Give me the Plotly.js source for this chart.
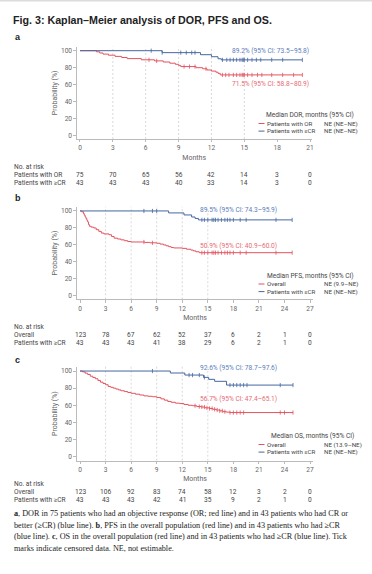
<!DOCTYPE html>
<html><head><meta charset="utf-8">
<script src="https://cdn.plot.ly/plotly-3.0.1.min.js"></script>
<style>html,body{margin:0;padding:0;background:#fff}#chart{width:372px;height:574px}</style>
</head><body><div id="chart"></div>
<script>
// ---------- DATA ----------
// Panel a: DOR
const aOR_t = [0, 1.5, 1.8, 2.1, 2.6, 3.2, 3.8, 4.3, 5.6, 6.8, 7.6, 8.2, 8.7, 9.0, 9.2, 10.6, 11.2, 11.6, 12.0, 12.4, 12.6, 12.8, 20.3];
const aOR_s = [100, 98.7, 97.3, 96.0, 94.7, 93.3, 92.0, 90.7, 89.3, 88.0, 86.7, 85.3, 84.0, 82.7, 81.3, 80.0, 78.7, 77.3, 76.0, 74.7, 73.3, 71.5, 71.5];
const aCR_t = [0, 7.5, 11.0, 12.0, 12.6, 12.9, 20.3];
const aCR_s = [100, 97.7, 95.3, 92.9, 90.5, 89.2, 89.2];
const aOR_cens = [6.3, 7.0, 9.5, 10.0, 10.5, 11.5, 13.0, 13.3, 13.6, 14.0, 14.3, 14.6, 14.8, 14.9, 15.0, 15.3, 15.7, 16.2, 16.6, 17.5, 18.5, 19.5, 20.3];
const aCR_cens = [6.5, 7.5, 9.2, 9.7, 10.2, 10.5, 13.0, 13.4, 13.7, 14.0, 14.3, 14.6, 14.8, 14.9, 15.0, 15.3, 15.7, 16.1, 16.5, 17.5, 18.5, 20.3];
const aTicks = [0, 3, 6, 9, 12, 15, 18, 21];
const aRiskOR = [75, 70, 65, 56, 42, 14, 3, 0];
const aRiskCR = [43, 43, 43, 40, 33, 14, 3, 0];

// Panel b: PFS
const bOv_t = [0, 0.2, 0.4, 0.5, 0.6, 0.7, 0.8, 0.9, 1.0, 1.1, 1.3, 1.6, 1.9, 2.2, 2.5, 2.8, 3.4, 3.7, 4.0, 4.4, 4.8, 5.2, 5.6, 6.0, 7.6, 8.2, 9.0, 9.4, 9.8, 10.1, 10.4, 10.7, 11.0, 12.0, 12.5, 13.0, 13.3, 13.6, 14.0, 24.9];
const bOv_s = [100, 99, 97, 95, 93, 91, 89, 87, 84, 82, 81, 80, 78, 76, 74, 73, 72, 70, 68, 67, 66, 65, 64, 63.5, 63, 62.5, 62, 61, 60, 59, 58, 57, 56.5, 56, 55, 54, 53, 52, 50.9, 50.9];
const bCR_t = [0, 10.4, 12.2, 13.1, 13.5, 13.9, 24.9];
const bCR_s = [100, 97.7, 95.3, 92.9, 91.2, 89.5, 89.5];
const bOv_cens = [7.5, 8.5, 14.3, 14.6, 15.0, 15.5, 15.7, 15.9, 16.2, 16.6, 17.0, 17.3, 17.6, 18.0, 18.8, 19.5, 23.0, 24.9];
const bCR_cens = [7.5, 8.5, 9.0, 14.3, 14.6, 15.0, 15.5, 15.7, 15.9, 16.2, 16.6, 17.0, 17.3, 17.6, 18.0, 18.8, 19.5, 23.0, 24.9];
const bTicks = [0, 3, 6, 9, 12, 15, 18, 21, 24, 27];
const bRiskOv = [123, 78, 67, 62, 52, 37, 6, 2, 1, 0];
const bRiskCR = [43, 43, 43, 41, 38, 29, 6, 2, 1, 0];

// Panel c: OS
const cOv_t = [0, 0.3, 0.6, 0.9, 1.2, 1.5, 1.8, 2.1, 2.4, 2.7, 3.0, 3.3, 3.6, 3.9, 4.2, 4.5, 4.8, 5.2, 5.6, 6.0, 6.5, 7.0, 7.5, 8.0, 8.5, 9.0, 9.5, 9.9, 10.3, 10.7, 11.2, 11.7, 12.2, 12.7, 13.2, 13.7, 14.2, 14.7, 15.2, 15.6, 16.0, 16.4, 16.8, 17.2, 17.6, 25.0];
const cOv_s = [100, 99, 97.5, 96, 94, 92.5, 91, 89, 87, 85.5, 84, 82, 81, 80, 79, 78, 77, 76, 75, 74, 73, 72, 71, 70.5, 70, 69, 67.5, 66, 64.5, 63.5, 62.5, 62, 61, 60, 59.5, 58.5, 58, 57, 56.3, 55.3, 54.5, 53.5, 52.5, 52, 51.5, 51.5];
const cCR_t = [0, 10.6, 12.3, 14.5, 15.1, 15.8, 17.2, 25.0];
const cCR_s = [100, 97.7, 95.3, 92.6, 90.3, 88.0, 83.6, 83.6];
const cOv_cens = [13.5, 14.0, 14.3, 14.6, 14.9, 15.2, 15.5, 15.8, 16.1, 16.4, 16.7, 17.0, 17.6, 18.0, 18.4, 18.8, 19.2, 23.5, 24.0, 25.0];
const cCR_cens = [8.5, 12.8, 13.2, 14.0, 14.6, 17.6, 18.0, 18.4, 18.8, 19.2, 19.6, 23.5, 25.0];
const cTicks = [0, 3, 6, 9, 12, 15, 18, 21, 24, 27];
const cRiskOv = [123, 106, 92, 83, 74, 58, 12, 3, 2, 0];
const cRiskCR = [43, 43, 43, 42, 41, 35, 9, 2, 1, 0];

const gridMonths = [3, 6, 9, 12, 15];
const yTicks = [0, 20, 40, 60, 80, 100];

// ---------- STYLE ----------
const W = 372, H = 574;
const PX = x => x / W, PY = y => 1 - y / H;
const RED = '#e2535f', BLUE = '#46679f';
const RED_T = '#e66a74', BLUE_T = '#5b7dba';
const SANS = 'Roboto, "Liberation Sans", sans-serif';
const GREY = '#666';
const FS = 6.6, LFS = 6.2;

function survAt(t, ts, ss) { let v = ss[0]; for (let i = 0; i < ts.length; i++) if (ts[i] <= t) v = ss[i]; return v; }

const traces = [];
function addPanel(xa, ya, redT, redS, blueT, blueS, redC, blueC) {
  traces.push({x: redT, y: redS, xaxis: xa, yaxis: ya, mode: 'lines', line: {shape: 'hv', color: RED, width: 1}, hoverinfo: 'skip', showlegend: false});
  traces.push({x: blueT, y: blueS, xaxis: xa, yaxis: ya, mode: 'lines', line: {shape: 'hv', color: BLUE, width: 1}, hoverinfo: 'skip', showlegend: false});
  traces.push({x: redC, y: redC.map(t => survAt(t, redT, redS)), xaxis: xa, yaxis: ya, mode: 'markers', marker: {symbol: 'line-ns-open', size: 3, color: RED, line: {color: RED, width: 0.8}}, hoverinfo: 'skip', showlegend: false});
  traces.push({x: blueC, y: blueC.map(t => survAt(t, blueT, blueS)), xaxis: xa, yaxis: ya, mode: 'markers', marker: {symbol: 'line-ns-open', size: 3, color: BLUE, line: {color: BLUE, width: 0.8}}, hoverinfo: 'skip', showlegend: false});
}
addPanel('x', 'y', aOR_t, aOR_s, aCR_t, aCR_s, aOR_cens, aCR_cens);
addPanel('x2', 'y2', bOv_t, bOv_s, bCR_t, bCR_s, bOv_cens, bCR_cens);
addPanel('x3', 'y3', cOv_t, cOv_s, cCR_t, cCR_s, cOv_cens, cCR_cens);

function xAx(domPx, range, ticks) {
  return {domain: [PX(domPx[0]), PX(domPx[1])], range: range, tickvals: ticks, ticktext: ticks.map(String),
    showline: true, linecolor: '#aaa', linewidth: 0.8, ticks: 'outside', ticklen: 2.5, tickcolor: '#aaa', tickwidth: 0.8,
    tickfont: {size: FS, color: GREY, family: SANS}, showgrid: false, zeroline: false, fixedrange: true,
    title: {text: 'Months', font: {size: 7, color: GREY, family: SANS}, standoff: 3}};
}
function yAx(domPx, range, anchor) {
  return {domain: [PY(domPx[1]), PY(domPx[0])], range: range, tickvals: yTicks, ticktext: yTicks.map(String), anchor: anchor,
    showline: true, linecolor: '#aaa', linewidth: 0.8, ticks: 'outside', ticklen: 2.5, tickcolor: '#aaa', tickwidth: 0.8,
    tickfont: {size: FS, color: GREY, family: SANS}, showgrid: false, zeroline: false, fixedrange: true,
    title: {text: 'Probability (%)', font: {size: 7, color: GREY, family: SANS}, standoff: 2}};
}

const ann = [];
const shapes = [];
function txt(x, y, s, opt) {
  ann.push(Object.assign({x: x, y: y, xref: 'paper', yref: 'paper', text: s, showarrow: false, xanchor: 'left', yanchor: 'middle', borderpad: 0,
    font: {size: FS, color: GREY, family: SANS}}, opt || {}));
}
// Title
txt(PX(12), PY(20), '<b>Fig. 3: Kaplan–Meier analysis of DOR, PFS and OS.</b>', {font: {size: 10.7, color: '#222', family: '"Liberation Sans", sans-serif'}});
// Top strip
shapes.push({type: 'rect', xref: 'paper', yref: 'paper', x0: 0, x1: 1, y0: PY(1.5), y1: 1, fillcolor: '#dcdcdc', line: {width: 0}});

// panel letters
[['a', 37], ['b', 198], ['c', 360]].forEach(([l, y]) => txt(PX(14), PY(y), '<b>' + l + '</b>', {font: {size: 9, color: '#222', family: '"Liberation Sans", sans-serif'}}));

// in-plot labels
txt(PX(310), PY(50.7), '89.2% (95% CI: 73.5–95.8)', {xanchor: 'right', font: {size: FS, color: BLUE_T, family: SANS}});
txt(PX(310), PY(84.3), '71.5% (95% CI: 58.8–80.9)', {xanchor: 'right', font: {size: FS, color: RED_T, family: SANS}});
txt(PX(199), PY(210), '89.5% (95% CI: 74.3–95.9)', {font: {size: FS, color: BLUE_T, family: SANS}});
txt(PX(199), PY(245.7), '50.9% (95% CI: 40.9–60.0)', {font: {size: FS, color: RED_T, family: SANS}});
txt(PX(199), PY(368.3), '92.6% (95% CI: 78.7–97.6)', {font: {size: FS, color: BLUE_T, family: SANS}});
txt(PX(199), PY(399.3), '56.7% (95% CI: 47.4–65.1)', {font: {size: FS, color: RED_T, family: SANS}});

// legends
function legend(yHead, head, rows) {
  txt(PX(355), PY(yHead), head, {xanchor: 'right', font: {size: FS, color: '#444', family: SANS}});
  rows.forEach((r, i) => {
    const y = yHead + 8.5 + i * 7.6;
    shapes.push({type: 'line', xref: 'paper', yref: 'paper', x0: PX(258.5), x1: PX(264.5), y0: PY(y), y1: PY(y), line: {color: r[2], width: 1}});
    txt(PX(266), PY(y), r[0], {font: {size: LFS, color: '#444', family: SANS}});
    txt(PX(323), PY(y), r[1], {font: {size: LFS, color: '#444', family: SANS}});
  });
}
legend(115, 'Median DOR, months (95% CI)', [['Patients with OR', 'NE (NE–NE)', RED], ['Patients with ≥CR', 'NE (NE–NE)', BLUE]]);
legend(275.5, 'Median PFS, months (95% CI)', [['Overall', 'NE (9.9–NE)', RED], ['Patients with ≥CR', 'NE (NE–NE)', BLUE]]);
legend(436, 'Median OS, months (95% CI)', [['Overall', 'NE (13.9–NE)', RED], ['Patients with ≥CR', 'NE (NE–NE)', BLUE]]);

// risk tables
function risk(xref, yTop, ticks, lab1, r1, lab2, r2) {
  txt(PX(13), PY(yTop), 'No. at risk', {font: {size: FS, color: '#444', family: SANS}});
  txt(PX(13), PY(yTop + 8), lab1, {font: {size: FS, color: '#444', family: SANS}});
  txt(PX(13), PY(yTop + 16), lab2, {font: {size: FS, color: '#444', family: SANS}});
  ticks.forEach((t, i) => {
    ann.push({x: t, y: PY(yTop + 8), xref: xref, yref: 'paper', text: String(r1[i]), showarrow: false, xanchor: 'center', yanchor: 'middle', borderpad: 0, font: {size: FS, color: '#444', family: SANS}});
    ann.push({x: t, y: PY(yTop + 16), xref: xref, yref: 'paper', text: String(r2[i]), showarrow: false, xanchor: 'center', yanchor: 'middle', borderpad: 0, font: {size: FS, color: '#444', family: SANS}});
  });
}
risk('x', 167.3, aTicks, 'Patients with OR', aRiskOR, 'Patients with ≥CR', aRiskCR);
risk('x2', 327.3, bTicks, 'Overall', bRiskOv, 'Patients with ≥CR', bRiskCR);
risk('x3', 484, cTicks, 'Overall', cRiskOv, 'Patients with ≥CR', cRiskCR);

// gridlines
[['x', 'y'], ['x2', 'y2'], ['x3', 'y3']].forEach(([xa, ya]) => {
  gridMonths.forEach(m => shapes.push({type: 'line', xref: xa, yref: ya + ' domain', x0: m, x1: m, y0: 0, y1: 1, layer: 'below', line: {color: '#c8c8c8', width: 0.7, dash: '2px,2px'}}));
});

// caption
const CAP = {size: 8.2, color: '#222', family: '"Liberation Serif", serif'};
const capLines = [
  '<b>a</b>, DOR in 75 patients who had an objective response (OR; red line) and in 43 patients who had CR or',
  'better (≥CR) (blue line). <b>b</b>, PFS in the overall population (red line) and in 43 patients who had ≥CR',
  '(blue line). <b>c</b>, OS in the overall population (red line) and in 43 patients who had ≥CR (blue line). Tick',
  'marks indicate censored data. NE, not estimable.'];
capLines.forEach((s, i) => txt(PX(12.5), PY(513.3 + i * 11.7), s, {font: CAP}));

const layout = {
  width: W, height: H, margin: {l: 0, r: 0, t: 0, b: 0}, paper_bgcolor: '#fff', plot_bgcolor: '#fff', showlegend: false,
  xaxis: xAx([76.7, 311.7], [-0.3, 21.15], aTicks), yaxis: yAx([46.7, 139], [-3.9, 104.7], 'x'),
  xaxis2: xAx([76.7, 313.3], [-0.39, 27.38], bTicks), yaxis2: yAx([206.7, 299.3], [-3.9, 105], 'x2'),
  xaxis3: xAx([76.7, 313.3], [-0.39, 27.38], cTicks), yaxis3: yAx([366.5, 460.7], [-4.7, 105.3], 'x3'),
  annotations: ann, shapes: shapes
};
layout.xaxis.anchor = 'y'; layout.xaxis2.anchor = 'y2'; layout.xaxis3.anchor = 'y3';
Plotly.newPlot('chart', traces, layout, {staticPlot: true, displayModeBar: false});
</script></body></html>
